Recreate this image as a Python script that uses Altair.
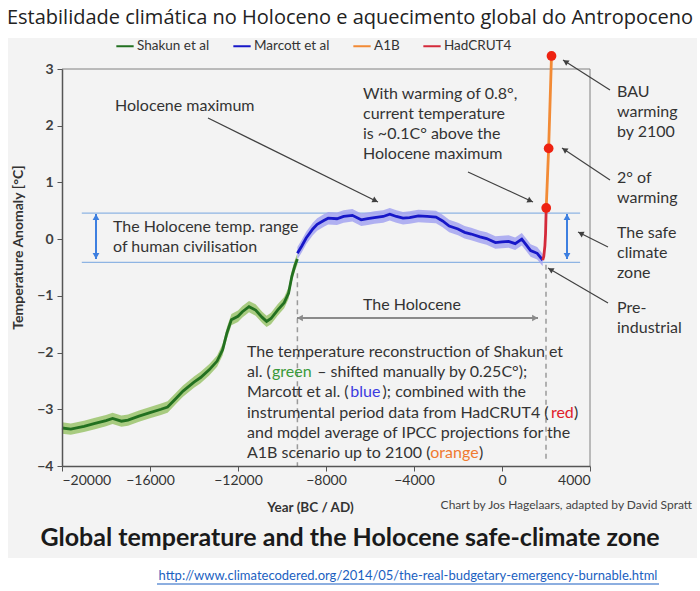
import altair as alt
import pandas as pd
import numpy as np

# ---------------- data ----------------
TITLE = "Estabilidade climática no Holoceno e aquecimento global do Antropoceno"
SUBTITLE = "Global temperature and the Holocene safe-climate zone"
URL = "http://www.climatecodered.org/2014/05/the-real-budgetary-emergency-burnable.html"
CREDIT = "Chart by Jos Hagelaars, adapted by David Spratt"

series_names = ["Shakun et al", "Marcott et al", "A1B", "HadCRUT4"]
series_colors = ["#227020", "#1717c8", "#f28a35", "#d42a3a"]

shakun_year = [-20000, -19600, -19000, -18500, -18000, -17700, -17300, -17000, -16500,
               -16000, -15500, -15200, -14800, -14500, -14000, -13700, -13300, -12950,
               -12700, -12500, -12300, -12000, -11800, -11500, -11200, -10900, -10700,
               -10500, -10200, -9900, -9700, -9550, -9400, -9300]
shakun_temp = [-3.33, -3.35, -3.30, -3.25, -3.20, -3.16, -3.21, -3.19, -3.12,
               -3.06, -3.00, -2.96, -2.80, -2.68, -2.52, -2.44, -2.30, -2.15,
               -1.95, -1.65, -1.42, -1.36, -1.28, -1.19, -1.25, -1.38, -1.45,
               -1.40, -1.25, -1.12, -0.95, -0.65, -0.45, -0.35]
shakun_band = 0.1

marcott_year = [-9300, -9100, -8900, -8600, -8400, -8100, -7900, -7500, -7200, -6800,
                -6400, -6100, -5800, -5400, -5100, -4800, -4500, -4200, -3800, -3400,
                -3000, -2700, -2400, -2000, -1700, -1400, -1000, -700, -300, 0,
                300, 600, 900, 1100, 1300, 1600, 1850]
marcott_temp = [-0.25, -0.12, 0.02, 0.18, 0.26, 0.33, 0.37, 0.36, 0.40, 0.42,
                0.34, 0.36, 0.38, 0.40, 0.44, 0.40, 0.37, 0.38, 0.41, 0.40,
                0.39, 0.32, 0.23, 0.18, 0.12, 0.09, 0.04, 0.01, -0.06, -0.05,
                -0.04, -0.08, 0.00, -0.10, -0.20, -0.25, -0.37]
marcott_band = 0.11

hadcrut_year = [1850, 1900, 1950, 1980, 2010]
hadcrut_temp = [-0.37, -0.30, -0.12, 0.10, 0.55]

a1b_year = [2010, 2120, 2250]
a1b_temp = [0.55, 1.60, 3.23]

holocene_range = [0.46, -0.41]
holocene_range_years = [-19100, 3550]
dashed_years = [-9300, 2000]
dashed_top = [-0.60, -0.45]
dashed_bottom = [-4.0, -3.9]

x_ticks = [-20000, -16000, -12000, -8000, -4000, 0, 4000]
y_ticks = [-4, -3, -2, -1, 0, 1, 2, 3]

# ---------------- style ----------------
FONT = "Lato"
TXT = "#333333"
OX, OY = 62, 69          # plot origin in the page
W, H = 528, 397          # plot size
ANN = 16                 # annotation font size

# approximate Lato advance widths (em) used only to butt coloured words together
_CW = {" ": 0.193, "a": 0.49, "b": 0.56, "c": 0.46, "d": 0.56, "e": 0.52, "f": 0.32,
       "g": 0.50, "h": 0.56, "i": 0.24, "j": 0.24, "k": 0.50, "l": 0.24, "m": 0.84,
       "n": 0.56, "o": 0.56, "p": 0.56, "q": 0.56, "r": 0.36, "s": 0.43, "t": 0.35,
       "u": 0.56, "v": 0.50, "w": 0.76, "x": 0.49, "y": 0.50, "z": 0.45, "(": 0.30,
       ")": 0.30, ".": 0.22, ";": 0.24, ",": 0.22, "–": 0.58, "°": 0.38,
       "M": 0.88, "I": 0.27, "A": 0.68, "B": 0.64, "C": 0.68, "H": 0.74, "R": 0.63,
       "T": 0.58, "U": 0.71, "P": 0.60}


def text_w(s, size):
    tot = 0.0
    for ch in s:
        if ch in _CW:
            tot += _CW[ch]
        elif ch.isdigit():
            tot += 0.58
        elif ch.isupper():
            tot += 0.66
        else:
            tot += 0.5
    return tot * size * 1.04


def px(X):
    return X - OX


def py(Y):
    return Y - OY


dummy = pd.DataFrame({"d": [0]})

xs = alt.Scale(domain=[-20000, 4000], nice=False, zero=False)
ys = alt.Scale(domain=[-4, 3], nice=False, zero=False)
xax = alt.Axis(values=x_ticks, format="d", title="Year (BC / AD)", grid=False, zindex=1,
               labelFontSize=14, labelColor=TXT, labelFont=FONT, labelPadding=2,
               tickSize=5, tickColor="#555", domainColor="#555", domainWidth=1.5,
               titleFontSize=13.5, titleFontWeight="bold", titleColor=TXT, titleFont=FONT,
               titleX=248, titleY=41, titleBaseline="middle")
yax = alt.Axis(values=y_ticks, format="d", title="Temperature Anomaly [°C]", grid=False,
               zindex=1, labelFontSize=14, labelColor="#404040", labelFont=FONT,
               labelFontWeight="bold", labelPadding=4, tickSize=5, tickColor="#555",
               domainColor="#555", domainWidth=1.5, titleFontSize=14, titleFontWeight="bold",
               titleColor=TXT, titleFont=FONT, titleX=-44, titleY=178, titleAngle=270,
               titleBaseline="middle")


def X(f):
    return alt.X(f, type="quantitative", scale=xs, axis=xax)


def Y(f):
    return alt.Y(f, type="quantitative", scale=ys, axis=yax)


def label(text, XX, YY, size=ANN, color=TXT, align="left", weight="normal", font=FONT):
    return alt.Chart(dummy).mark_text(text=text, align=align, baseline="middle",
                                      fontSize=size, color=color, fontWeight=weight,
                                      font=font).encode(x=alt.value(px(XX)), y=alt.value(py(YY)))


def seg(X1, Y1, X2, Y2, color, width):
    return alt.Chart(dummy).mark_rule(color=color, strokeWidth=width).encode(
        x=alt.value(px(X1)), y=alt.value(py(Y1)), x2=alt.value(px(X2)), y2=alt.value(py(Y2)))


def head(XX, YY, dx, dy, color, size):
    ang = float(np.degrees(np.arctan2(dx, -dy)) % 360)
    L = float(np.hypot(dx, dy))
    ux, uy = dx / L, dy / L
    cx, cy = XX - ux * 3, YY - uy * 3
    return alt.Chart(dummy).mark_point(shape="triangle-up", filled=True, size=size,
                                       color=color, opacity=1, angle=ang, strokeWidth=0).encode(
        x=alt.value(px(cx)), y=alt.value(py(cy)))


def arrow(X1, Y1, X2, Y2, color, width, size, both=False):
    out = [seg(X1, Y1, X2, Y2, color, width), head(X2, Y2, X2 - X1, Y2 - Y1, color, size)]
    if both:
        out.append(head(X1, Y1, X1 - X2, Y1 - Y2, color, size))
    return out


layers = []

# light grey panel behind the figure
layers.append(alt.Chart(dummy).mark_rect(color="#f3f3f3").encode(
    x=alt.value(px(8)), x2=alt.value(px(697)), y=alt.value(py(38)), y2=alt.value(py(558))))

# frame top / right
layers.append(seg(62, 69, 590, 69, "#808080", 1))
layers.append(seg(590, 69, 590, 466, "#808080", 1))

# holocene range lines
range_df = pd.DataFrame({"x1": [holocene_range_years[0]] * 2,
                         "x2": [holocene_range_years[1]] * 2,
                         "t": holocene_range})
layers.append(alt.Chart(range_df).mark_rule(color="#8eb4e3", strokeWidth=1.3).encode(
    x=X("x1"), x2="x2:Q", y=Y("t")))

# dashed verticals
dash_df = pd.DataFrame({"year": dashed_years, "top": dashed_top, "bot": dashed_bottom})
layers.append(alt.Chart(dash_df).mark_rule(color="#9a9a9a", strokeWidth=1.5,
                                           strokeDash=[5, 4]).encode(
    x=X("year"), y=Y("top"), y2="bot:Q"))

# uncertainty bands
sh = pd.DataFrame({"year": shakun_year, "temp": shakun_temp})
sh["lo"] = sh["temp"] - shakun_band
sh["hi"] = sh["temp"] + shakun_band
ma = pd.DataFrame({"year": marcott_year, "temp": marcott_temp})
ma["lo"] = ma["temp"] - marcott_band
ma["hi"] = ma["temp"] + marcott_band
layers.append(alt.Chart(sh).mark_area(color="#a0c673", opacity=0.9).encode(
    x=X("year"), y=Y("lo"), y2="hi:Q"))
layers.append(alt.Chart(ma).mark_area(color="#a3a3f0", opacity=0.85).encode(
    x=X("year"), y=Y("lo"), y2="hi:Q"))

# lines
lines_df = pd.concat([
    pd.DataFrame({"year": shakun_year, "temp": shakun_temp, "series": "Shakun et al"}),
    pd.DataFrame({"year": marcott_year, "temp": marcott_temp, "series": "Marcott et al"}),
    pd.DataFrame({"year": a1b_year, "temp": a1b_temp, "series": "A1B"}),
    pd.DataFrame({"year": hadcrut_year, "temp": hadcrut_temp, "series": "HadCRUT4"}),
], ignore_index=True)
layers.append(alt.Chart(lines_df).mark_line(strokeWidth=2.8).encode(
    x=X("year"), y=Y("temp"), order="year:Q",
    color=alt.Color("series:N", scale=alt.Scale(domain=series_names, range=series_colors),
                    legend=alt.Legend(orient="none", legendX=53, legendY=-33,
                                      direction="horizontal", title=None,
                                      symbolType="stroke", symbolSize=300,
                                      symbolStrokeWidth=2, labelFontSize=13.5,
                                      labelFont=FONT, labelColor=TXT, columnPadding=19,
                                      labelOffset=2))))

# A1B dots
a1b_df = pd.DataFrame({"year": a1b_year, "temp": a1b_temp})
layers.append(alt.Chart(a1b_df).mark_point(filled=True, size=95, color="#ee2211",
                                           opacity=1).encode(x=X("year"), y=Y("temp")))

# double arrows
layers += arrow(297, 318, 538, 318, "#8a8a8a", 2, 45, both=True)
layers += arrow(96, 214, 96, 259, "#3d7fe0", 2, 45, both=True)
layers += arrow(567, 214, 567, 259, "#3d7fe0", 2, 45, both=True)

# annotation arrows
AC = "#404040"
layers += arrow(208, 118, 378, 202, AC, 1.2, 40)
layers += arrow(468, 172, 533, 202, AC, 1.2, 40)
layers += arrow(610, 90, 563, 60, AC, 1.2, 40)
layers += arrow(610, 180, 562, 148, AC, 1.2, 40)
layers += arrow(608, 247, 578, 232, AC, 1.2, 40)
layers += arrow(608, 303, 548, 268, AC, 1.2, 40)

# annotation texts
layers.append(label("Holocene maximum", 115, 106))
for i, t in enumerate(["With warming of 0.8°,", "current temperature",
                       "is ~0.1C° above the", "Holocene maximum"]):
    layers.append(label(t, 363, 94 + 20 * i))
layers.append(label("The Holocene temp. range", 113, 227))
layers.append(label("of human civilisation", 113, 247))
layers.append(label("The Holocene", 412, 305, align="center"))
for i, t in enumerate(["BAU", "warming", "by 2100"]):
    layers.append(label(t, 617, 92 + 20 * i))
for i, t in enumerate(["2° of", "warming"]):
    layers.append(label(t, 617, 178 + 20 * i))
for i, t in enumerate(["The safe", "climate", "zone"]):
    layers.append(label(t, 617, 233 + 20 * i))
for i, t in enumerate(["Pre-", "industrial"]):
    layers.append(label(t, 617, 308 + 20 * i))

GREEN_T, BLUE_T, RED_T, ORANGE_T = "#3a9a3a", "#3b3be0", "#e0202a", "#f07a30"
# (text, colour, small nudge in px so the coloured words sit snugly)
paragraph = [
    [("The temperature reconstruction of Shakun et", TXT, 0)],
    [("al. (", TXT, 0), ("green", GREEN_T, 0), (" – shifted manually by 0.25C°);", TXT, 0)],
    [("Marcott et al. (", TXT, 0), ("blue", BLUE_T, 0), ("); combined with the", TXT, 0)],
    [("instrumental period data from HadCRUT4 (", TXT, 0), ("red", RED_T, -5), (")", TXT, -2)],
    [("and model average of IPCC projections for the", TXT, 0)],
    [("A1B scenario up to 2100 (", TXT, 0), ("orange", ORANGE_T, -3), (")", TXT, -2)],
]
for i, line in enumerate(paragraph):
    cur = 247.0
    yy = 352 + 20.2 * i
    for (t, c, nudge) in line:
        lead = len(t) - len(t.lstrip(" "))
        cur += text_w(" " * lead, ANN) + nudge
        layers.append(label(t.strip(" "), cur, yy, color=c))
        cur += text_w(t.strip(" "), ANN) + 1.0

# titles and credits
layers.append(label(TITLE, 350, 18, size=20, color="#222222", align="center", font="Open Sans"))
layers.append(label(SUBTITLE, 350, 538, size=25, color="#1a1a1a", align="center", weight="bold"))
layers.append(label(CREDIT, 692, 505, size=12, color="#444444", align="right"))
layers.append(label(URL, 408, 576, size=13, color="#1b5fc1", align="center"))
layers.append(seg(157, 584, 659, 584, "#1b5fc1", 1))

chart = alt.layer(*layers).properties(
    width=W, height=H, autosize="none",
    padding={"left": OX, "top": OY, "right": 700 - OX - W, "bottom": 591 - OY - H},
    background="white",
).configure_view(strokeWidth=0).configure(font=FONT)

chart.save("out.html", embed_options={"renderer": "svg", "actions": False})
